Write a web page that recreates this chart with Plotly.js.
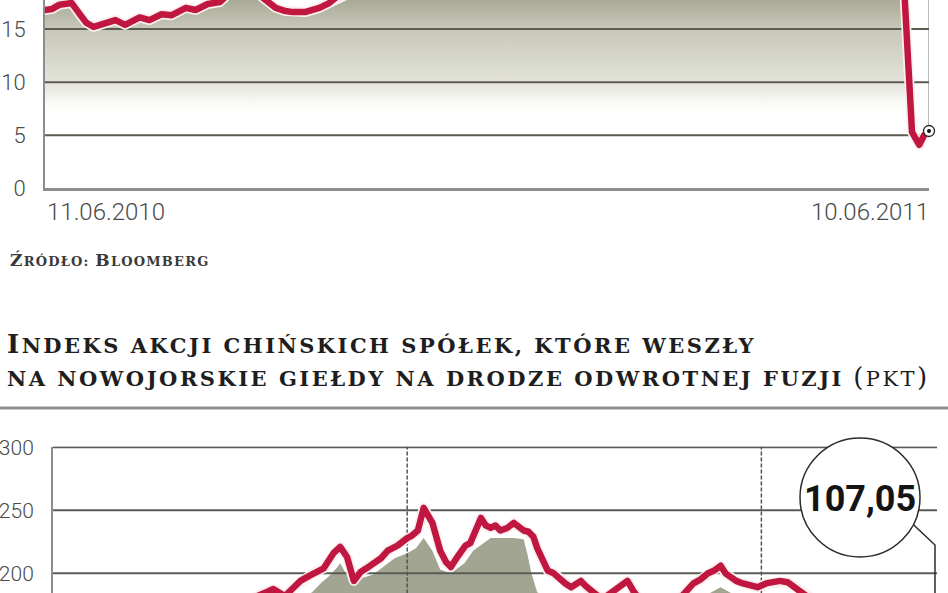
<!DOCTYPE html>
<html>
<head>
<meta charset="utf-8">
<script src="https://cdn.plot.ly/plotly-3.0.1.min.js"></script>
<style>
  html, body { margin: 0; padding: 0; background: #ffffff; }
  #chart { width: 948px; height: 593px; }
  .js-line { stroke-linejoin: round; stroke-linecap: round; }
</style>
</head>
<body>
<div id="chart"></div>
<script>
// ---------- DATA ----------
// Top chart: share price (cropped), 11.06.2010 - 10.06.2011
const topDates = [
  '2010-06-11','2010-06-14','2010-06-17','2010-06-22','2010-06-25','2010-06-28',
  '2010-07-01','2010-07-04','2010-07-07','2010-07-10','2010-07-14','2010-07-17',
  '2010-07-20','2010-07-24','2010-07-29','2010-08-02','2010-08-05','2010-08-08',
  '2010-08-12','2010-08-17','2010-08-22','2010-08-26','2010-09-01','2010-09-05',
  '2010-09-09','2010-09-14','2010-09-18','2010-09-21','2010-09-26','2010-10-02',
  '2010-10-06','2010-10-10','2010-10-20','2010-11-05','2010-11-25','2010-12-15',
  '2011-01-05','2011-01-25','2011-02-15','2011-03-05','2011-03-25','2011-04-15',
  '2011-05-05','2011-05-20','2011-05-28','2011-05-31','2011-06-01','2011-06-02',
  '2011-06-03','2011-06-06','2011-06-07','2011-06-08','2011-06-09','2011-06-10'
];
const topValues = [
  16.8, 16.9, 17.3, 17.45, 16.5, 15.6,
  15.2, 15.4, 15.7, 15.85, 15.4, 15.8,
  16.1, 15.85, 16.4, 16.3, 16.7, 17.0,
  16.8, 17.36, 17.55, 18.4, 18.8, 18.6,
  17.9, 17.0, 16.7, 16.6, 16.6, 17.0,
  17.45, 18.2, 19.5, 21.0, 23.0, 22.0,
  24.0, 26.0, 25.0, 23.0, 22.0, 21.0,
  20.0, 19.5, 19.0, 17.9, 12.5, 7.5,
  5.3, 4.1, 4.6, 5.0, 5.2, 5.4
];
const topYTicks = [0, 5, 10, 15];
const topGridTicks = [5, 10, 15];
const topDateLabels = ['11.06.2010', '10.06.2011'];
const topXRange = ['2010-06-11', '2011-06-10'];

// Bottom chart: index of Chinese reverse-merger companies (pkt), cropped
const indexDates = [
  '2009-01-02','2009-02-02','2009-03-02','2009-04-01','2009-05-01','2009-06-01',
  '2009-07-01','2009-07-20','2009-08-03','2009-08-10','2009-08-16','2009-08-22',
  '2009-08-28','2009-09-05','2009-09-13','2009-09-22','2009-09-30','2009-10-07',
  '2009-10-12','2009-10-17','2009-10-24','2009-10-31','2009-11-07','2009-11-14',
  '2009-11-20','2009-11-27','2009-12-05','2009-12-12','2009-12-17','2009-12-22',
  '2010-01-01','2010-01-06','2010-01-12','2010-01-18','2010-01-27','2010-02-04',
  '2010-02-10','2010-02-15','2010-02-20','2010-02-25','2010-03-02','2010-03-07',
  '2010-03-12','2010-03-18','2010-03-23','2010-03-28','2010-04-02','2010-04-07',
  '2010-04-14','2010-04-21','2010-04-26','2010-05-01','2010-05-06','2010-05-11',
  '2010-05-15','2010-05-19','2010-05-23','2010-05-26','2010-06-01','2010-06-04',
  '2010-06-08','2010-06-13','2010-06-19','2010-06-24','2010-06-29','2010-07-04',
  '2010-07-09','2010-07-15','2010-07-22','2010-07-29','2010-08-04','2010-08-10',
  '2010-08-16','2010-08-22','2010-08-30','2010-09-10','2010-09-25','2010-10-10',
  '2010-10-17','2010-10-23','2010-10-30','2010-11-07','2010-11-13','2010-11-20',
  '2010-11-25','2010-11-30','2010-12-06','2010-12-13','2010-12-20','2010-12-28',
  '2011-01-06','2011-01-14','2011-01-20','2011-01-28','2011-02-03','2011-02-08',
  '2011-02-18','2011-03-01','2011-03-15','2011-04-01','2011-04-15','2011-05-01',
  '2011-05-15','2011-06-01','2011-06-10'
];
const indexValues = [
  100, 92, 85, 110, 135, 160,
  172, 178, 182, 185.5, 187.5, 185,
  182, 188, 194, 198, 202, 204,
  210, 216, 221, 213, 194, 201,
  204, 208, 212, 218, 220, 222,
  228, 230, 234, 252, 240, 218,
  209, 205, 211, 216, 222, 224,
  233, 244, 238, 236, 238, 234,
  236, 240, 237, 234, 233, 229,
  220, 213, 207, 202, 200, 198,
  194, 192, 189, 191, 194, 190,
  186, 183, 180, 184, 188, 191,
  194, 186, 178, 174, 175, 181,
  187, 192, 195, 200, 202, 206,
  200, 197, 194, 192, 190, 189,
  192, 193, 194, 193, 190, 188,
  183, 175, 160, 140, 130, 120,
  112, 108, 107.05
];
// Grey area series shown behind the index line
const areaDates = [
  '2009-01-02','2009-06-01','2009-08-15','2009-09-13','2009-09-25','2009-10-05',
  '2009-10-13','2009-10-20','2009-10-24','2009-11-01','2009-11-14','2009-11-27',
  '2009-12-04','2009-12-19','2010-01-01','2010-01-10','2010-01-18','2010-01-27',
  '2010-02-04','2010-02-15','2010-03-01','2010-03-10','2010-03-28','2010-04-07',
  '2010-04-21','2010-05-01','2010-05-05','2010-05-09','2010-05-15','2010-06-01',
  '2010-07-01','2010-08-01','2010-09-15','2010-10-25','2010-11-13','2010-11-20',
  '2010-11-27','2010-12-15','2011-01-20','2011-03-01','2011-04-15','2011-06-10'
];
const areaValues = [
  80, 140, 170, 180, 185, 193,
  198, 204, 208, 197, 196, 199,
  203, 212, 216, 220, 228, 218,
  203, 200, 208, 218, 228, 228,
  228, 227, 215, 200, 185, 178,
  172, 175, 168, 178, 186, 189,
  186, 178, 180, 165, 120, 100
];
const bottomYTicks = [200, 250, 300];
const bottomXRange = ['2009-01-01', '2011-07-01'];
const yearMarks = ['2010-01-01', '2011-01-01'];

// ---------- STYLE ----------
const RED = '#bf173f';
const SANS = 'Roboto, Lato, sans-serif';
const SERIF = 'DejaVu Serif, serif';
const W = 948, H = 593;
const px = v => v / W;
const py = v => 1 - v / H;

const topYMax = 17.74;
const botYRange = [184.4, 300.6];

const lastTopX = topDates[topDates.length - 1];
const lastTopY = topValues[topValues.length - 1];
const lastIndex = indexValues[indexValues.length - 1];

function gridTrace(ticks, range, xa, ya, color) {
  const xs = [], ys = [];
  ticks.forEach(t => { xs.push(range[0], range[1], null); ys.push(t, t, null); });
  return { x: xs, y: ys, xaxis: xa, yaxis: ya, mode: 'lines', type: 'scatter',
           line: { color: color, width: 2 }, hoverinfo: 'skip', showlegend: false };
}

const traces = [
  // top: gradient fill
  { x: topDates, y: topValues, type: 'scatter', mode: 'lines', fill: 'tozeroy',
    line: { width: 0, color: 'rgba(0,0,0,0)' },
    fillgradient: { type: 'vertical', start: 7, stop: topYMax,
      colorscale: [[0, 'rgba(255,255,255,1)'], [0.12, '#f7f7f3'], [0.28, '#e3e3da'],
                   [0.745, '#c7c8b8'], [1, '#a9aa96']] },
    xaxis: 'x', yaxis: 'y', hoverinfo: 'skip', showlegend: false },
  gridTrace(topGridTicks, topXRange, 'x', 'y', '#5b5b50'),
  // top: halo + line
  { x: topDates, y: topValues, type: 'scatter', mode: 'lines',
    line: { color: '#fbeef0', width: 10 }, xaxis: 'x', yaxis: 'y', showlegend: false, hoverinfo: 'skip' },
  { x: topDates, y: topValues, type: 'scatter', mode: 'lines',
    line: { color: RED, width: 6.5 }, xaxis: 'x', yaxis: 'y', showlegend: false },
  // top: end marker
  { x: [lastTopX], y: [lastTopY], type: 'scatter', mode: 'markers', cliponaxis: false,
    marker: { size: 11, color: '#ffffff', line: { color: '#222', width: 1.3 } },
    xaxis: 'x', yaxis: 'y', showlegend: false, hoverinfo: 'skip' },
  { x: [lastTopX], y: [lastTopY], type: 'scatter', mode: 'markers', cliponaxis: false,
    marker: { size: 4, color: '#111' }, xaxis: 'x', yaxis: 'y', showlegend: false, hoverinfo: 'skip' },

  // bottom: grey area
  { x: areaDates, y: areaValues, type: 'scatter', mode: 'lines', fill: 'tozeroy',
    fillcolor: '#a3a593', line: { width: 0, color: 'rgba(0,0,0,0)' },
    xaxis: 'x2', yaxis: 'y2', hoverinfo: 'skip', showlegend: false },
  gridTrace(bottomYTicks, bottomXRange, 'x2', 'y2', '#5b5b55'),
  // bottom: dotted year marks
  { x: [yearMarks[0], yearMarks[0], null, yearMarks[1], yearMarks[1]],
    y: [botYRange[0], 300, null, botYRange[0], 300], type: 'scatter', mode: 'lines',
    line: { color: '#555', width: 1.5, dash: 'dot' }, xaxis: 'x2', yaxis: 'y2',
    hoverinfo: 'skip', showlegend: false },
  // bottom: halo + line
  { x: indexDates, y: indexValues, type: 'scatter', mode: 'lines',
    line: { color: '#fbeef0', width: 10 }, xaxis: 'x2', yaxis: 'y2', showlegend: false, hoverinfo: 'skip' },
  { x: indexDates, y: indexValues, type: 'scatter', mode: 'lines',
    line: { color: RED, width: 6.5 }, xaxis: 'x2', yaxis: 'y2', showlegend: false }
];

const tickFont = { family: SANS, size: 22, color: '#4a4a4a', weight: 300 };
const tickFont2 = { family: SANS, size: 21, color: '#4a4a4a', weight: 300 };

const layout = {
  width: W, height: H,
  margin: { l: 0, r: 0, t: 0, b: 0, pad: 0 },
  paper_bgcolor: '#ffffff', plot_bgcolor: 'rgba(0,0,0,0)',
  showlegend: false,
  font: { family: SANS, color: '#444' },
  xaxis: {
    type: 'date', domain: [px(45), px(929)], range: topXRange, anchor: 'y',
    showgrid: false, zeroline: false, showticklabels: false, ticks: '',
    showline: true, linecolor: '#8d8d8d', linewidth: 2.5, layer: 'above traces', fixedrange: true
  },
  yaxis: {
    domain: [py(188.3), 1], range: [0, topYMax], anchor: 'x',
    tickvals: topYTicks, ticktext: topYTicks.map(String),
    showgrid: false, zeroline: false, ticks: '',
    showline: true, linecolor: '#8d8d8d', linewidth: 2, layer: 'above traces',
    ticklabelstandoff: 13, tickfont: tickFont, fixedrange: true
  },
  xaxis2: {
    type: 'date', domain: [px(53), px(937)], range: bottomXRange, anchor: 'y2',
    showgrid: false, zeroline: false, showticklabels: false, ticks: '', showline: false, fixedrange: true
  },
  yaxis2: {
    domain: [0, (botYRange[1] - botYRange[0]) * 1.26 / H], range: botYRange, anchor: 'x2',
    tickvals: bottomYTicks, ticktext: bottomYTicks.map(String),
    showgrid: false, zeroline: false, ticks: '',
    showline: true, linecolor: '#8d8d8d', linewidth: 2, layer: 'above traces',
    ticklabelstandoff: 13, tickfont: tickFont2, fixedrange: true
  },
  shapes: [
    // thin leader at end of top chart
    { type: 'line', xref: 'x', yref: 'y', x0: lastTopX, x1: lastTopX, y0: lastTopY + 0.5, y1: topYMax,
      line: { color: '#777', width: 1 }, layer: 'between' },
    // horizontal rule under the title
    { type: 'line', xref: 'paper', yref: 'paper', x0: 0, x1: 1, y0: py(408), y1: py(408),
      line: { color: '#8e8e8e', width: 3 } },
    // value bubble
    { type: 'circle', xref: 'paper', yref: 'paper', x0: px(800), x1: px(920), y0: py(557), y1: py(438),
      fillcolor: '#ffffff', line: { color: '#2b2b2b', width: 1.5 }, layer: 'above' },
    { type: 'path', xref: 'paper', yref: 'paper',
      path: 'M ' + px(913.5) + ',' + py(524.7) + ' L ' + px(935) + ',' + py(545) + ' L ' + px(935) + ',' + py(593),
      line: { color: '#2b2b2b', width: 1.5 }, layer: 'above' }
  ],
  annotations: [
    { xref: 'x', yref: 'paper', x: topXRange[0], y: py(212), xanchor: 'left', yanchor: 'middle',
      xshift: 0, showarrow: false, text: topDateLabels[0],
      font: { family: SANS, size: 24, color: '#4a4a4a', weight: 300 } },
    { xref: 'x', yref: 'paper', x: topXRange[1], y: py(212), xanchor: 'right', yanchor: 'middle',
      xshift: 2, showarrow: false, text: topDateLabels[1],
      font: { family: SANS, size: 24, color: '#4a4a4a', weight: 300 } },
    { xref: 'paper', yref: 'paper', x: px(8), y: py(260), xanchor: 'left', yanchor: 'middle',
      showarrow: false,
      text: '<b><span style="letter-spacing:1.2px"><span style="font-size:17px">Ź</span>RÓDŁO: <span style="font-size:17px">B</span>LOOMBERG</span></b>',
      font: { family: SERIF, size: 13, color: '#3a3a3a' } },
    { xref: 'paper', yref: 'paper', x: px(5), y: py(344), xanchor: 'left', yanchor: 'middle',
      showarrow: false,
      text: '<b><span style="letter-spacing:2.5px"><span style="font-size:26px">I</span>NDEKS AKCJI CHIŃSKICH SPÓŁEK, KTÓRE WESZŁY</span></b>',
      font: { family: SERIF, size: 21, color: '#1e1e1e' } },
    { xref: 'paper', yref: 'paper', x: px(5), y: py(377), xanchor: 'left', yanchor: 'middle',
      showarrow: false,
      text: '<span style="letter-spacing:2.5px"><b>NA NOWOJORSKIE GIEŁDY NA DRODZE ODWROTNEJ FUZJI</b> <span style="font-size:26px">(</span>PKT<span style="font-size:26px">)</span></span>',
      font: { family: SERIF, size: 21, color: '#1e1e1e' } },
    { xref: 'paper', yref: 'paper', x: px(860), y: py(499), xanchor: 'center', yanchor: 'middle',
      showarrow: false, text: '<b>' + lastIndex.toFixed(2).replace('.', ',') + '</b>',
      font: { family: SANS, size: 36, color: '#141414' } }
  ]
};

Plotly.newPlot('chart', traces, layout, { staticPlot: true, displayModeBar: false });
</script>
</body>
</html>
